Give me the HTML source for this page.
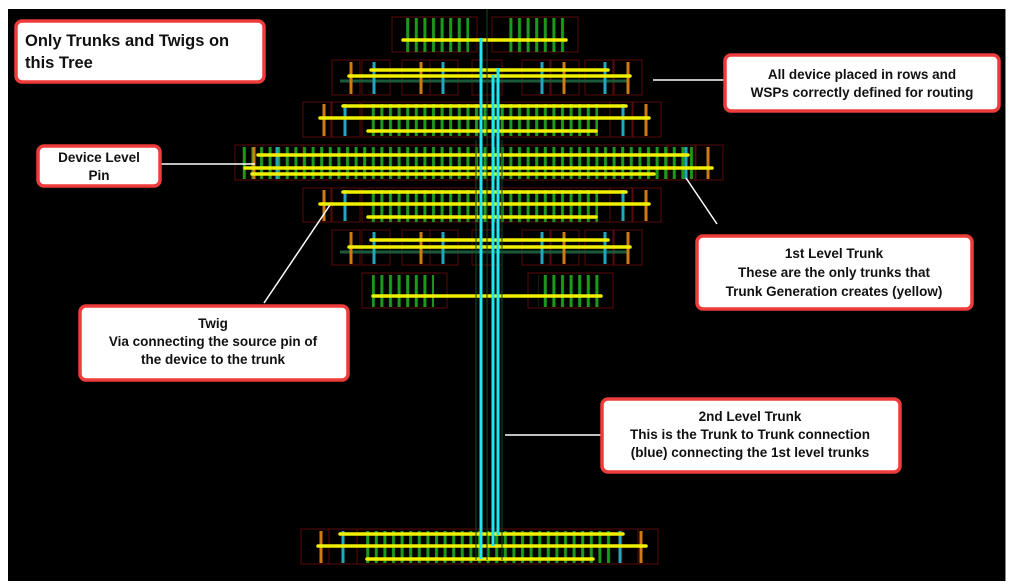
<!DOCTYPE html>
<html><head><meta charset="utf-8"><style>
html,body{margin:0;padding:0;background:#fff;width:1013px;height:586px;overflow:hidden}
svg{display:block}
.cb{font-family:"Liberation Sans",sans-serif;font-weight:bold;fill:#111;font-size:13.5px}
</style></head><body>
<svg width="1013" height="586" viewBox="0 0 1013 586" xmlns="http://www.w3.org/2000/svg">
<defs>
<pattern id="g" x="0" y="0" width="8.6" height="40" patternUnits="userSpaceOnUse">
<rect x="2" y="0" width="3" height="40" fill="#1c9a1c"/>
</pattern>
<pattern id="g2" x="3" y="0" width="8.6" height="40" patternUnits="userSpaceOnUse">
<rect x="2" y="0" width="3" height="40" fill="#1c9a1c"/>
</pattern>
</defs>
<rect x="0" y="0" width="1013" height="586" fill="#fff"/>
<rect x="8" y="9" width="997" height="572" fill="#000"/>
<line x1="1005.5" y1="9" x2="1005.5" y2="581" stroke="#888" stroke-width="1"/>

<g stroke="#5a0a0a" stroke-width="1" fill="none">
<!-- row0 -->
<rect x="392" y="17" width="85" height="35"/><rect x="492" y="17" width="86" height="35"/>
<!-- row1 -->
<rect x="332" y="60" width="28" height="35"/><rect x="362" y="60" width="28" height="35"/><rect x="402" y="60" width="28" height="35"/><rect x="430" y="60" width="28" height="35"/><rect x="472" y="60" width="30" height="35"/><rect x="522" y="60" width="28" height="35"/><rect x="551" y="60" width="28" height="35"/><rect x="585" y="60" width="28" height="35"/><rect x="614" y="60" width="28" height="35"/>
<!-- row2 -->
<rect x="303" y="102" width="28" height="35"/><rect x="332" y="102" width="28" height="35"/><rect x="362" y="102" width="270" height="35"/><rect x="610" y="102" width="22" height="35"/><rect x="633" y="102" width="28" height="35"/>
<!-- row3 -->
<rect x="235" y="145" width="28" height="35"/><rect x="263" y="145" width="40" height="35"/><rect x="303" y="145" width="365" height="35"/><rect x="667" y="145" width="28" height="35"/><rect x="696" y="145" width="27" height="35"/>
<!-- row4 -->
<rect x="303" y="188" width="28" height="34"/><rect x="332" y="188" width="28" height="34"/><rect x="362" y="188" width="270" height="34"/><rect x="610" y="188" width="22" height="34"/><rect x="633" y="188" width="28" height="34"/>
<!-- row5 -->
<rect x="332" y="230" width="28" height="35"/><rect x="362" y="230" width="28" height="35"/><rect x="402" y="230" width="28" height="35"/><rect x="430" y="230" width="28" height="35"/><rect x="472" y="230" width="30" height="35"/><rect x="522" y="230" width="28" height="35"/><rect x="551" y="230" width="28" height="35"/><rect x="585" y="230" width="28" height="35"/><rect x="614" y="230" width="28" height="35"/>
<!-- row6 -->
<rect x="362" y="273" width="85" height="35"/><rect x="528" y="273" width="85" height="35"/>
<!-- bottom -->
<rect x="301" y="529" width="28" height="35"/><rect x="329" y="529" width="28" height="35"/><rect x="357" y="529" width="265" height="35"/><rect x="620" y="529" width="18" height="35"/><rect x="638" y="529" width="20" height="35"/>
</g>

<!-- green verticals -->
<rect x="404" y="18" width="65" height="34" fill="url(#g)"/>
<rect x="504" y="18" width="65" height="34" fill="url(#g)"/>
<rect x="370" y="104" width="228" height="32" fill="url(#g)"/>
<rect x="240" y="147" width="456" height="32" fill="url(#g)"/>
<rect x="370" y="190" width="228" height="32" fill="url(#g)"/>
<rect x="372" y="275" width="62" height="32" fill="url(#g)"/>
<rect x="538" y="275" width="62" height="32" fill="url(#g)"/>
<rect x="365" y="531" width="250" height="32" fill="url(#g2)"/>
<line x1="340" y1="81" x2="628" y2="81" stroke="#1a5a3a" stroke-width="3"/>
<line x1="340" y1="252" x2="628" y2="252" stroke="#1a5a3a" stroke-width="3"/>

<!-- orange / cyan pins -->
<g stroke-width="3">
<g stroke="#d07a10">
<line x1="351" y1="62" x2="351" y2="94"/><line x1="421" y1="62" x2="421" y2="94"/><line x1="564" y1="62" x2="564" y2="94"/><line x1="628" y1="62" x2="628" y2="94"/>
<line x1="324" y1="104" x2="324" y2="136"/><line x1="646" y1="104" x2="646" y2="136"/>
<line x1="254" y1="147" x2="254" y2="179"/><line x1="708" y1="147" x2="708" y2="179"/>
<line x1="324" y1="190" x2="324" y2="221"/><line x1="646" y1="190" x2="646" y2="221"/>
<line x1="351" y1="232" x2="351" y2="264"/><line x1="421" y1="232" x2="421" y2="264"/><line x1="564" y1="232" x2="564" y2="264"/><line x1="628" y1="232" x2="628" y2="264"/>
<line x1="321" y1="531" x2="321" y2="563"/><line x1="641" y1="531" x2="641" y2="563"/>
</g>
<g stroke="#20a8c0">
<line x1="374" y1="62" x2="374" y2="94"/><line x1="443" y1="62" x2="443" y2="94"/><line x1="542" y1="62" x2="542" y2="94"/><line x1="605" y1="62" x2="605" y2="94"/>
<line x1="345" y1="104" x2="345" y2="136"/><line x1="623" y1="104" x2="623" y2="136"/>
<line x1="277" y1="147" x2="277" y2="179"/><line x1="686" y1="147" x2="686" y2="179"/>
<line x1="345" y1="190" x2="345" y2="221"/><line x1="623" y1="190" x2="623" y2="221"/>
<line x1="374" y1="232" x2="374" y2="264"/><line x1="443" y1="232" x2="443" y2="264"/><line x1="542" y1="232" x2="542" y2="264"/><line x1="605" y1="232" x2="605" y2="264"/>
<line x1="343" y1="531" x2="343" y2="563"/><line x1="620" y1="531" x2="620" y2="563"/>
</g>
</g>

<!-- yellow trunks -->
<g stroke="#f0f000" stroke-width="3.5" stroke-linecap="round">
<line x1="403" y1="40" x2="566" y2="40"/>
<line x1="371" y1="70" x2="608" y2="70"/><line x1="349" y1="76" x2="630" y2="76"/>
<line x1="343" y1="106" x2="626" y2="106"/><line x1="320" y1="118" x2="649" y2="118"/><line x1="368" y1="131" x2="596" y2="131"/>
<line x1="258" y1="155" x2="688" y2="155"/><line x1="245" y1="168" x2="712" y2="168"/><line x1="252" y1="174" x2="654" y2="174"/>
<line x1="343" y1="192" x2="626" y2="192"/><line x1="320" y1="204" x2="649" y2="204"/><line x1="368" y1="217" x2="596" y2="217"/>
<line x1="371" y1="240" x2="608" y2="240"/><line x1="349" y1="247" x2="630" y2="247"/>
<line x1="373" y1="296" x2="601" y2="296"/>
<line x1="340" y1="534" x2="623" y2="534"/><line x1="318" y1="546" x2="646" y2="546"/><line x1="367" y1="559" x2="593" y2="559"/>
</g>

<!-- blue 2nd level trunks -->
<g stroke="#104a20" stroke-width="1"><line x1="476" y1="140" x2="476" y2="560"/><line x1="487" y1="9" x2="487" y2="560"/><line x1="502" y1="140" x2="502" y2="560"/></g>
<g stroke="#20e8f0" stroke-width="3">
<line x1="481" y1="38" x2="481" y2="559"/>
<line x1="493" y1="75" x2="493" y2="546"/>
<line x1="498" y1="68" x2="498" y2="535"/>
</g>

<!-- connectors -->
<g stroke="#fff" stroke-width="1.5">
<line x1="160" y1="164" x2="255" y2="164"/>
<line x1="653" y1="80" x2="724" y2="80"/>
<line x1="686" y1="178" x2="717" y2="224"/>
<line x1="330" y1="205" x2="264" y2="303"/>
<line x1="505" y1="435" x2="601" y2="435"/>
</g>

<!-- callouts -->
<g fill="#fff" stroke="#ee3b3b" stroke-width="3.5">
<rect x="16" y="21" width="248" height="61" rx="6"/>
<rect x="38" y="146" width="122" height="40" rx="6"/>
<rect x="725" y="55" width="274" height="56" rx="6"/>
<rect x="697" y="236" width="275" height="73" rx="6"/>
<rect x="80" y="306" width="268" height="74" rx="6"/>
<rect x="602" y="399" width="298" height="73" rx="6"/>
</g>
<text x="25" y="46" class="cb" style="font-size:16.5px">Only Trunks and Twigs on</text>
<text x="25" y="68" class="cb" style="font-size:16.5px">this Tree</text>
<g class="cb" text-anchor="middle">
<text x="99" y="162">Device Level</text><text x="99" y="180">Pin</text>
<text x="862" y="79">All device placed in rows and</text><text x="862" y="97">WSPs correctly defined for routing</text>
<text x="834" y="258">1st Level Trunk</text><text x="834" y="277">These are the only trunks that</text><text x="834" y="296">Trunk Generation creates (yellow)</text>
<text x="213" y="328">Twig</text><text x="213" y="346">Via connecting the source pin of</text><text x="213" y="364">the device to the trunk</text>
<text x="750" y="421">2nd Level Trunk</text><text x="750" y="439">This is the Trunk to Trunk connection</text><text x="750" y="457">(blue) connecting the 1st level trunks</text>
</g>
</svg>
</body></html>
